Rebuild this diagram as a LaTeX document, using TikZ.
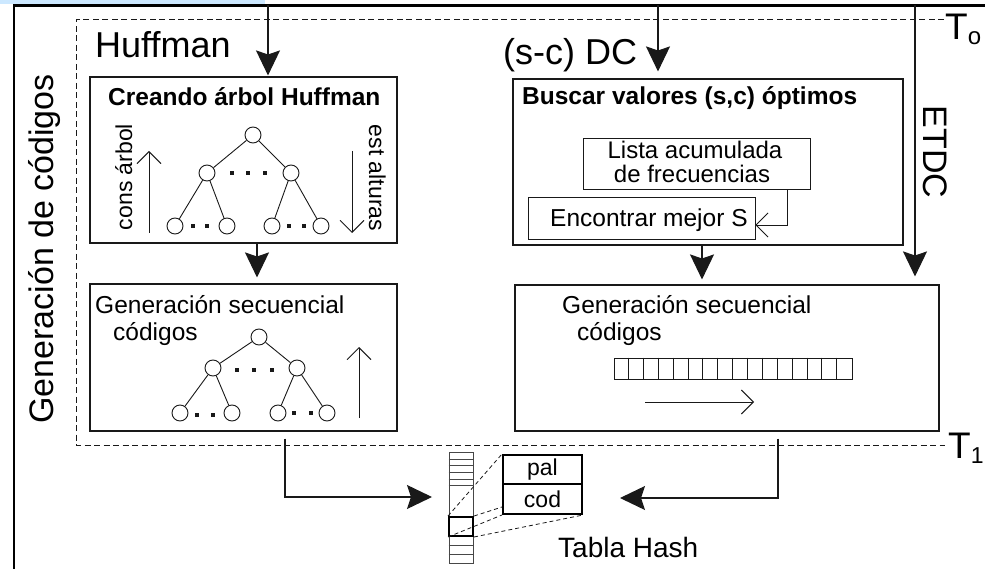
\documentclass[tikz,border=0pt]{standalone}
\usepackage{fontspec}
\setmainfont{Liberation Sans}
\usetikzlibrary{arrows.meta,calc}
\definecolor{selblue}{RGB}{204,232,255}
\definecolor{ink}{RGB}{25,25,25}
\newcommand{\fsz}[1]{\fontsize{#1}{#1}\selectfont}

\begin{document}
\begin{tikzpicture}[x=1pt,y=-1pt,
  box/.style={draw=ink, line width=1.1pt, inner sep=0pt},
  bigarrow/.style={draw=ink, line width=1.1pt, -{Stealth[length=25pt,width=24pt,inset=4pt]}},
  openarrow/.style={draw=ink, line width=0.9pt, -{Straight Barb[length=12pt,width=24pt]}},
  tnode/.style={draw=ink, line width=0.9pt, circle, minimum size=16pt, inner sep=0pt},
  tdot/.style={fill=ink, inner sep=0pt, minimum size=3.2pt},
  lbl/.style={inner sep=0pt, text=black},
  frameline/.style={draw=black, line width=2.5pt},
  stage/.style={draw=ink, line width=1pt, dash pattern=on 6pt off 3.5pt},
  hashbox/.style={draw=black, line width=2pt, inner sep=0pt},
  hashlink/.style={draw=ink, line width=0.8pt, dash pattern=on 4pt off 3pt},
]
\useasboundingbox (0,0) rectangle (985,569);

% selection strip and outer frame
\fill[selblue] (0,0) rectangle (265,4);
\coordinate (fL) at (14,5.5);
\coordinate (fR) at (985,5.5);
\coordinate (fB) at (14,569);
\draw[frameline] (fR) -- (fL) -- (fB);

% code generation stage (dashed)
\draw[stage] (944,20) -- (76,20) -- (76,445) -- (945,445);
\node[lbl, font={\fsz{37}}, anchor=base west] (t0) at (945,40) {T\raisebox{-5pt}{\fsz{24}o}};
\node[lbl, font={\fsz{37}}, anchor=base west] (t1) at (948,458) {T\raisebox{-5pt}{\fsz{23}1}};

\node[lbl, font={\fsz{34}}, rotate=90, anchor=base] (gen) at (53,249) {Generación de códigos};
\node[lbl, font={\fsz{36}}, anchor=base west] (huf) at (95,58) {Huffman};
\node[lbl, font={\fsz{36}}, anchor=base west] (scdc) at (503,65) {(s-c) DC};
\node[lbl, font={\fsz{34}}, rotate=-90, anchor=base] (etdc) at (923,152) {ETDC};

% main boxes
\node[box, minimum width=307pt, minimum height=166pt] (b1) at (243.5,160) {};
\node[box, minimum width=307pt, minimum height=147pt] (b2) at (243.5,357.5) {};
\node[box, minimum width=390pt, minimum height=166pt] (b3) at (708,162) {};
\node[box, minimum width=424pt, minimum height=146pt] (b4) at (727,358) {};

% Huffman tree construction
\node[lbl, font={\fsz{24.5}\bfseries}, anchor=base west] (b1t) at (108,106) {Creando árbol Huffman};
\node[lbl, font={\fsz{23}}, rotate=90, anchor=base] (cons) at (132,177) {cons árbol};
\node[lbl, font={\fsz{23}}, rotate=-90, anchor=base] (alt) at (369,178) {est alturas};
\draw[openarrow] (149,233) -- (149,151);
\draw[openarrow] (352,151) -- (352,233);

\node[tnode] (r1) at (253,135) {};
\node[tnode] (a1) at (207,173) {};
\node[tnode] (c1) at (291,173) {};
\node[tnode] (l11) at (175,226) {};
\node[tnode] (l12) at (227,226) {};
\node[tnode] (l13) at (272,226) {};
\node[tnode] (l14) at (321,226) {};
\draw[ink, line width=0.9pt] (r1) -- (a1) (r1) -- (c1) (a1) -- (l11) (a1) -- (l12) (c1) -- (l13) (c1) -- (l14);
\foreach \x/\y in {232/173,248/173,265/173,193/226,207/226,289/226,304/226}
  \node[tdot] at (\x,\y) {};

% Huffman sequential generation
\node[lbl, font={\fsz{24.5}}, anchor=base west] (b2a) at (95,313) {Generación secuencial};
\node[lbl, font={\fsz{24.5}}, anchor=base west] (b2b) at (113,340) {códigos};
\draw[openarrow] (359,418) -- (359,347);

\node[tnode] (r2) at (259,337) {};
\node[tnode] (a2) at (213,368) {};
\node[tnode] (c2) at (297,368) {};
\node[tnode] (l21) at (180,413) {};
\node[tnode] (l22) at (232,413) {};
\node[tnode] (l23) at (278,413) {};
\node[tnode] (l24) at (327,413) {};
\draw[ink, line width=0.9pt] (r2) -- (a2) (r2) -- (c2) (a2) -- (l21) (a2) -- (l22) (c2) -- (l23) (c2) -- (l24);
\foreach \x/\y in {237/370,254/370,272/370,197/415,213/415,294/413,311/413}
  \node[tdot] at (\x,\y) {};

% (s,c) search
\node[lbl, font={\fsz{24.5}\bfseries}, anchor=base west] (b3t) at (522,105) {Buscar valores (s,c) óptimos};
\node[box, line width=0.9pt, minimum width=227pt, minimum height=51pt] (lista) at (696.5,163.5) {};
\node[lbl, font={\fsz{24}}, anchor=base] (lista1) at (695,159) {Lista acumulada};
\node[lbl, font={\fsz{24}}, anchor=base] (lista2) at (692,183) {de frecuencias};
\node[box, line width=0.9pt, minimum width=227pt, minimum height=42pt] (enc) at (641.5,218) {};
\node[lbl, font={\fsz{24.5}}, anchor=base west] (enct) at (550,227) {Encontrar mejor S};
\coordinate (lx) at (787,225);
\draw[openarrow] (lista.south -| lx) |- (enc.east |- lx);

% dense sequential generation
\node[lbl, font={\fsz{24.5}}, anchor=base west] (b4a) at (562,313) {Generación secuencial};
\node[lbl, font={\fsz{24.5}}, anchor=base west] (b4b) at (577,340) {códigos};
\node[draw=ink, line width=0.9pt, inner sep=0pt, minimum width=238pt, minimum height=21pt] (cells) at (733,368.5) {};
\foreach \i in {1,...,15}
  \draw[ink, line width=0.8pt] ($(cells.north west)+(\i*14.875,0)$) -- ($(cells.south west)+(\i*14.875,0)$);
\draw[openarrow] (645,402) -- (754,402);

% flow between stages
\coordinate (x1) at (268,0);
\coordinate (x2) at (658,0);
\coordinate (x3) at (915,0);
\coordinate (x4) at (257,0);
\coordinate (x5) at (702,0);
\draw[bigarrow, shorten >=1pt] (fL -| x1) -- (b1.north -| x1);
\draw[bigarrow, shorten >=7pt] (fL -| x2) -- (b3.north -| x2);
\draw[bigarrow, shorten >=8pt] (fL -| x3) -- (b4.north -| x3);
\draw[bigarrow, shorten >=6pt] (b1.south -| x4) -- (b2.north -| x4);
\draw[bigarrow, shorten >=5pt] (b3.south -| x5) -- (b4.north -| x5);

% hash table
\node[draw=ink!80, line width=0.9pt, inner sep=0pt, minimum width=24pt, minimum height=111pt] (strip) at (461,507.5) {};
\foreach \y in {459,465,472,479,485,545,554}
  \draw[ink!80, line width=0.8pt] (strip.west |- 0,\y) -- (strip.east |- 0,\y);
\node[hashbox, minimum width=24pt, minimum height=19pt] (hl) at (461,526.5) {};
\node[hashbox, font={\fsz{23}}, minimum width=79pt, minimum height=29pt] (pal) at (542.5,469.5) {pal};
\node[hashbox, font={\fsz{23}}, minimum width=79pt, minimum height=30pt] (cod) at (542.5,499) {cod};
\draw[hashlink] (hl.north west) -- (pal.north west);
\draw[hashlink] (hl.north east) -- ($(cod.west)!0.5!(cod.south west)$);
\draw[hashlink] (hl.south west) -- (cod.south west);
\draw[hashlink] (hl.south east) -- (cod.south east);
\node[lbl, font={\fsz{28}}, anchor=base west] (tabla) at (558,557) {Tabla Hash};

\coordinate (y1) at (285,0);
\coordinate (y2) at (778,0);
\coordinate (hL) at (432,497);
\coordinate (hR) at (620,498);
\draw[bigarrow, shorten <=7pt] (b2.south -| y1) |- (hL);
\draw[bigarrow, shorten <=7pt] (b4.south -| y2) |- (hR);
\end{tikzpicture}
\end{document}
